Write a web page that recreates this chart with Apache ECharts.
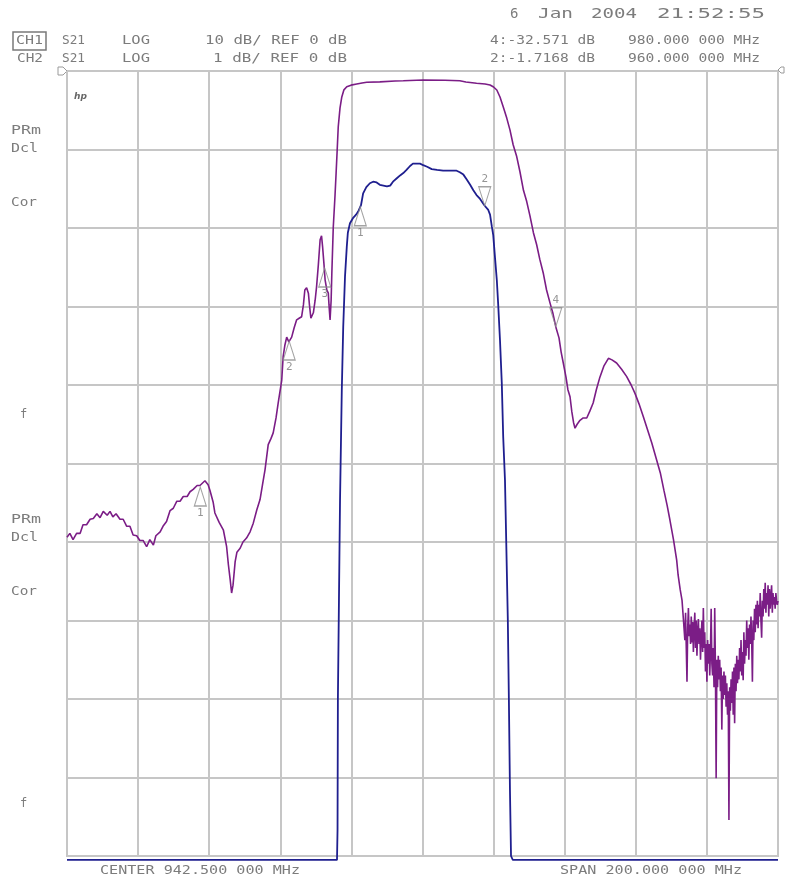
<!DOCTYPE html>
<html>
<head>
<meta charset="utf-8">
<script src="https://cdn.jsdelivr.net/npm/echarts@6/dist/echarts.min.js"></script>
<style>
html,body{margin:0;padding:0;background:#fff;}
#chart{width:785px;height:882px;}
</style>
</head>
<body>
<div id="chart"></div>
<script>
// ---------- data ----------
const CENTER_MHZ = 942.5;
const SPAN_MHZ = 200;

// CH1 S21, 10 dB/div, ref 0 dB (frequency in MHz, level in dB)
const ch1Freq = [
  842.5, 843.3, 844.2, 845.2, 846.2, 847.0, 848.0, 849.0, 849.9, 850.9,
  851.8, 852.7, 853.8, 854.6, 855.4, 856.3, 857.4, 858.3, 859.3, 860.2,
  861.1, 862.1, 863.0, 863.9, 864.9, 865.8, 866.8, 867.5, 868.7, 869.5,
  870.5, 871.5, 872.4, 873.4, 874.3, 875.2, 876.3, 877.1, 878.0, 879.1,
  879.9, 881.3, 882.2, 882.7, 883.6, 884.1, 885.3, 886.5, 887.4, 887.9,
  888.4, 888.8, 889.2, 889.8, 890.3, 891.2, 892.0, 893.0, 894.0, 894.9,
  895.9, 896.8, 897.5, 898.2, 899.1, 899.9, 900.5, 901.3, 901.9, 902.9,
  903.3, 903.8, 904.3, 904.9, 905.7, 906.4, 907.1, 907.8, 908.5, 909.0,
  909.4, 909.9, 910.4, 910.7, 911.1, 911.8, 912.3, 912.7, 913.2, 913.7,
  914.1, 914.4, 914.8, 915.1, 915.6, 916.0, 916.2, 916.5, 916.8, 917.0,
  917.4, 917.9, 918.2, 918.5, 918.8, 919.3, 919.8, 920.4, 921.2, 922.4,
  924.0, 925.5, 926.8, 930.5, 934.8, 937.1, 942.7, 948.8, 953.0, 954.7,
  957.7, 960.1, 961.5, 962.5, 963.4, 964.3, 965.2, 966.2, 967.1, 968.0,
  969.0, 969.9, 970.9, 971.8, 972.7, 973.7, 974.6, 975.5, 976.5, 977.4,
  978.4, 979.2, 980.0, 980.9, 981.5, 982.1, 982.9, 983.4, 984.0, 984.5,
  985.0, 985.4, 986.0, 986.8, 987.7, 988.7, 989.6, 990.5, 991.4, 992.4,
  993.5, 994.8, 995.8, 997.1, 998.5, 999.9, 1001.2, 1002.3, 1003.4, 1004.6,
  1005.8, 1007.0, 1008.2, 1009.4, 1010.4, 1011.3, 1012.1, 1013.1, 1014.0, 1014.4,
  1015.0, 1015.5, 1015.9,
  1016.1, 1016.3, 1016.5, 1016.7, 1016.9, 1017.1, 1017.3, 1017.5, 1017.7, 1017.9,
  1018.1, 1018.3, 1018.5, 1018.7, 1018.9, 1019.1, 1019.3, 1019.5, 1019.7, 1019.9,
  1020.1, 1020.3, 1020.5, 1020.7, 1020.9, 1021.1, 1021.3, 1021.5, 1021.7, 1021.9,
  1022.1, 1022.3, 1022.5, 1022.7, 1022.9, 1023.1, 1023.3, 1023.5, 1023.7, 1023.9,
  1024.1, 1024.3, 1024.5, 1024.7, 1024.9, 1025.1, 1025.3, 1025.5, 1025.7, 1025.9,
  1026.1, 1026.3, 1026.5, 1026.7, 1026.9, 1027.1, 1027.3, 1027.5, 1027.7, 1027.9,
  1028.1, 1028.3, 1028.5, 1028.7, 1028.9, 1029.1, 1029.3, 1029.5, 1029.7, 1029.9,
  1030.1, 1030.3, 1030.5, 1030.7, 1030.9, 1031.1, 1031.3, 1031.5, 1031.7, 1031.9,
  1032.1, 1032.3, 1032.5, 1032.7, 1032.9, 1033.1, 1033.3, 1033.5, 1033.7, 1033.9,
  1034.1, 1034.3, 1034.5, 1034.7, 1034.9, 1035.1, 1035.3, 1035.5, 1035.7, 1035.9,
  1036.1, 1036.3, 1036.5, 1036.7, 1036.9, 1037.1, 1037.3, 1037.5, 1037.7, 1037.9,
  1038.1, 1038.3, 1038.5, 1038.7, 1038.9, 1039.1, 1039.3, 1039.5, 1039.7, 1039.9,
  1040.1, 1040.3, 1040.5, 1040.7, 1040.9, 1041.1, 1041.3, 1041.5, 1041.7, 1041.9,
  1042.1, 1042.3, 1042.5
];
const ch1Db = [
  -59.4, -58.9, -59.7, -58.9, -58.9, -57.8, -57.8, -57.1, -57.0, -56.4,
  -56.9, -56.1, -56.6, -56.1, -56.8, -56.4, -57.1, -57.1, -58.0, -58.0,
  -59.1, -59.2, -59.8, -59.8, -60.6, -59.7, -60.4, -59.2, -58.7, -58.0,
  -57.4, -56.0, -55.7, -54.8, -54.8, -54.2, -54.2, -53.6, -53.3, -52.8,
  -52.8, -52.2, -52.7, -53.4, -54.9, -56.3, -57.5, -58.5, -60.6, -62.9,
  -64.8, -66.5, -65.5, -62.5, -61.3, -60.8, -60.0, -59.5, -58.7, -57.6,
  -55.9, -54.6, -52.7, -50.8, -47.6, -46.8, -46.1, -44.2, -42.3, -39.4,
  -36.4, -34.9, -33.9, -34.5, -33.9, -32.7, -31.7, -31.5, -31.3, -29.8,
  -27.9, -27.6, -28.3, -29.8, -31.5, -30.8, -29.2, -27.5, -24.7, -21.5,
  -21.0, -22.4, -24.7, -26.6, -27.9, -28.3, -29.8, -31.7, -29.2, -25.7,
  -19.9, -15.8, -13.0, -10.1, -7.1, -4.7, -3.3, -2.4, -2.0, -1.8,
  -1.66, -1.53, -1.44, -1.38, -1.27, -1.24, -1.15, -1.17, -1.24, -1.40,
  -1.57, -1.66, -1.78, -2.04, -2.42, -3.31, -4.55, -6.0, -7.5, -9.4,
  -10.9, -12.8, -15.2, -16.6, -18.4, -20.6, -22.1, -24.0, -25.8, -27.9,
  -29.6, -30.9, -32.6, -34.0, -35.8, -37.2, -39.1, -40.6, -41.5, -43.4,
  -44.8, -45.5, -45.0, -44.5, -44.2, -44.2, -43.3, -42.3, -40.6, -39.0,
  -37.6, -36.6, -36.8, -37.2, -38.0, -38.9, -40.0, -41.1, -42.4, -44.0,
  -45.7, -47.4, -49.3, -51.2, -53.4, -55.3, -57.2, -59.7, -62.3, -64.2,
  -66.1, -67.4, -69.9,
  -70.0, -72.5, -69.0, -73.5, -77.8, -71.0, -68.4, -72.0, -70.5, -73.0,
  -69.5, -72.8, -70.2, -74.0, -71.0, -69.0, -73.5, -70.0, -74.5, -71.5,
  -69.8, -73.0, -71.0, -75.0, -72.0, -70.0, -74.0, -68.4, -73.5, -71.5,
  -76.5, -73.0, -77.8, -72.5, -75.5, -73.0, -77.0, -74.0, -68.5, -75.5,
  -77.0, -73.5, -78.5, -68.4, -76.0, -90.1, -75.0, -78.5, -74.5, -77.5,
  -75.0, -79.0, -76.0, -83.9, -77.0, -80.0, -76.5, -79.5, -77.0, -81.0,
  -78.0, -82.0, -79.0, -95.4, -78.5, -81.5, -77.5, -80.5, -76.5, -82.0,
  -76.0, -83.1, -75.5, -79.0, -74.5, -78.0, -75.0, -77.5, -73.5, -76.5,
  -72.5, -77.0, -74.0, -77.6, -71.5, -75.5, -72.5, -74.5, -70.0, -73.5,
  -71.0, -75.0, -70.5, -73.0, -69.5, -72.5, -77.8, -70.0, -72.5, -68.5,
  -71.5, -68.0, -70.5, -67.5, -71.0, -68.0, -69.5, -66.5, -70.0, -72.2,
  -67.5, -69.5, -66.0, -68.5, -65.2, -69.0, -66.5, -68.0, -65.5, -69.5,
  -66.0, -68.5, -67.0, -65.5, -69.0, -66.5, -68.0, -67.0, -68.5, -66.5,
  -67.5, -68.0, -67.5
];

// CH2 S21, 1 dB/div, ref 0 dB (trace pinned just below the bottom line out of band)
const ch2Freq = [
  842.5, 918.45, 918.6, 918.7, 919.0, 919.3, 919.8, 920.2, 920.7, 921.2,
  921.5, 922.1, 923.0, 923.8, 924.4, 925.2, 925.8, 926.7, 927.7, 928.6,
  929.6, 930.5, 931.5, 932.5, 933.4, 934.2, 935.2, 936.2, 937.1, 938.0,
  939.0, 939.8, 940.9, 941.8, 942.7, 943.8, 945.1, 946.6, 948.3, 950.2,
  952.1, 953.0, 954.0, 954.9, 955.9, 956.8, 957.7, 958.7, 959.6, 960.0,
  961.0, 961.5, 962.0, 962.4, 962.9, 963.4, 963.8, 964.3, 964.8, 965.2,
  965.7, 966.1, 966.5, 966.8, 967.1, 967.4, 967.9, 1042.5
];
const ch2Db = [
  -10.05, -10.05, -9.67, -8.01, -6.74, -5.47, -4.06, -3.26, -2.62, -2.24,
  -2.06, -1.94, -1.87, -1.83, -1.79, -1.71, -1.56, -1.48, -1.43, -1.41,
  -1.42, -1.45, -1.46, -1.47, -1.46, -1.41, -1.37, -1.33, -1.30, -1.26,
  -1.21, -1.18, -1.18, -1.18, -1.20, -1.22, -1.25, -1.26, -1.27, -1.27,
  -1.27, -1.29, -1.32, -1.38, -1.45, -1.52, -1.58, -1.63, -1.69, -1.7168,
  -1.77, -1.83, -1.98, -2.09, -2.38, -2.66, -2.98, -3.43, -3.97, -4.66,
  -5.21, -6.10, -6.99, -8.01, -9.16, -10.0, -10.05, -10.05
];

// markers
const ch1MarkFreq = [880, 905, 915, 980];
const ch1MarkDb = [-53.0, -34.4, -25.1, -32.571];
const ch1MarkDir = ['up', 'up', 'up', 'down'];
const ch1MarkLabel = ['1', '2', '3', '4'];
const ch2MarkFreq = [925, 960];
const ch2MarkDb = [-1.73, -1.7168];
const ch2MarkDir = ['up', 'down'];
const ch2MarkLabel = ['1', '2'];

// annotation texts
const dateText = ['6', 'Jan', '2004', '21:52:55'];
const ch1Header = ['CH1', 'S21', 'LOG', '10 dB/ REF 0 dB', '4:-32.571 dB', '980.000 000 MHz'];
const ch2Header = ['CH2', 'S21', 'LOG', '1 dB/ REF 0 dB', '2:-1.7168 dB', '960.000 000 MHz'];
const footerText = ['CENTER 942.500 000 MHz', 'SPAN 200.000 000 MHz'];
const sideText = ['PRm', 'Dcl', 'Cor', 'f'];

// ---------- styles ----------
const GRID_COLOR = '#c6c6c6';
const TEXT_COLOR = '#7c7c7c';
const CH1_COLOR = '#7b1d86';
const CH2_COLOR = '#1f1f8f';
const MONO = '"DejaVu Sans Mono", "Liberation Mono", monospace';

const mctx = document.createElement('canvas').getContext('2d');
function measure(str, font) { mctx.font = font; return mctx.measureText(str).width; }

function txt(str, x1, x2, yc, size) {
  const font = (size || 13) + 'px ' + MONO;
  let s = 1;
  if (x2 != null && str.length > 1) s = (x2 - x1) / measure(str, font);
  return {
    type: 'text', x: x1, y: yc, scaleX: s, silent: true,
    style: { text: str, font: font, fill: TEXT_COLOR, align: 'left', verticalAlign: 'middle' }
  };
}

const graphics = [];
// date line
graphics.push(txt(dateText[0], 510, null, 14, 14));
graphics.push(txt(dateText[1], 538, 573, 14, 14));
graphics.push(txt(dateText[2], 591, 637, 14, 14));
graphics.push(txt(dateText[3], 657, 765, 14, 14));
// channel header lines
const headerX = [[16, 43], [62, 85], [122, 150], [205, 347], [490, 595], [628, 760]];
ch1Header.forEach((t, i) => graphics.push(txt(t, headerX[i][0], headerX[i][1], 41)));
const header2X = [[17, 43], [62, 85], [122, 150], [213, 347], [490, 595], [628, 760]];
ch2Header.forEach((t, i) => graphics.push(txt(t, header2X[i][0], header2X[i][1], 59)));
graphics.push({ type: 'rect', silent: true, shape: { x: 13, y: 32, width: 33, height: 18 },
  style: { fill: 'none', stroke: '#7a7a7a', lineWidth: 1.5 } });
// footer
graphics.push(txt(footerText[0], 100, 300, 871));
graphics.push(txt(footerText[1], 560, 742, 871));
// side annotations (two groups)
[0, 389].forEach(dy => {
  graphics.push(txt(sideText[0], 11, 41, 131 + dy, 12));
  graphics.push(txt(sideText[1], 11, 38, 149 + dy, 12));
  graphics.push(txt(sideText[2], 11, 37, 203 + dy, 12));
  graphics.push(txt(sideText[3], 20, null, 415 + dy, 12));
});
// hp logo
graphics.push({ type: 'text', x: 74, y: 97, silent: true,
  style: { text: 'hp', font: 'italic bold 9px "DejaVu Sans"', fill: '#666', align: 'left', verticalAlign: 'middle' } });
// reference level indicators
graphics.push({ type: 'polygon', silent: true, shape: { points: [[58, 67], [63, 67], [67, 71], [63, 75], [58, 75]] },
  style: { fill: '#fff', stroke: '#9a9a9a', lineWidth: 1 } });
graphics.push({ type: 'polygon', silent: true, shape: { points: [[784, 67], [781, 67], [778, 70], [781, 73], [784, 73]] },
  style: { fill: '#fff', stroke: '#9a9a9a', lineWidth: 1 } });

// ---------- series ----------
const ch1Data = ch1Freq.map((f, i) => [f - CENTER_MHZ, ch1Db[i]]);
const ch2Data = ch2Freq.map((f, i) => [f - CENTER_MHZ, ch2Db[i]]);

const UP = 'path://M6,0L12,19L0,19Z';
const DOWN = 'path://M0,0L12,0L6,19Z';
function markItems(freqs, dbs, dirs, labels) {
  return freqs.map((f, i) => {
    const up = dirs[i] === 'up';
    return {
      value: [f - CENTER_MHZ, dbs[i]],
      symbol: up ? UP : DOWN,
      symbolOffset: [0, up ? 9.5 : -9.5],
      label: { show: true, formatter: labels[i], position: up ? 'bottom' : 'top', distance: 1 }
    };
  });
}
const markerStyle = {
  type: 'scatter', symbolSize: [12, 19], silent: true, z: 5,
  itemStyle: { color: 'rgba(255,255,255,0)', borderColor: '#8c8c8c', borderWidth: 1.2 },
  label: { color: '#7a7a7a', fontSize: 11, fontFamily: MONO }
};

const option = {
  animation: false,
  backgroundColor: '#ffffff',
  grid: { left: 67, right: 7, top: 71, bottom: 26, show: true, borderColor: GRID_COLOR, borderWidth: 2 },
  xAxis: {
    type: 'value', min: -SPAN_MHZ / 2, max: SPAN_MHZ / 2, interval: 20,
    axisLine: { show: false }, axisTick: { show: false }, axisLabel: { show: false },
    splitLine: { show: true, lineStyle: { color: GRID_COLOR, width: 2 } }
  },
  yAxis: [
    {
      type: 'value', min: -100, max: 0, interval: 10,
      axisLine: { show: false }, axisTick: { show: false }, axisLabel: { show: false },
      splitLine: { show: true, lineStyle: { color: GRID_COLOR, width: 2 } }
    },
    { type: 'value', min: -10, max: 0, interval: 1, show: false, splitLine: { show: false } }
  ],
  graphic: graphics,
  series: [
    {
      name: 'CH1', type: 'line', data: ch1Data, yAxisIndex: 0, showSymbol: false, silent: true,
      lineStyle: { color: CH1_COLOR, width: 1.6 }, z: 3
    },
    {
      name: 'CH2', type: 'line', data: ch2Data, yAxisIndex: 1, showSymbol: false, silent: true, clip: false,
      lineStyle: { color: CH2_COLOR, width: 1.8 }, z: 4
    },
    Object.assign({}, markerStyle, { name: 'CH1 markers', yAxisIndex: 0,
      data: markItems(ch1MarkFreq, ch1MarkDb, ch1MarkDir, ch1MarkLabel) }),
    Object.assign({}, markerStyle, { name: 'CH2 markers', yAxisIndex: 1,
      data: markItems(ch2MarkFreq, ch2MarkDb, ch2MarkDir, ch2MarkLabel) })
  ]
};

const chart = echarts.init(document.getElementById('chart'));
chart.setOption(option);
</script>
</body>
</html>
